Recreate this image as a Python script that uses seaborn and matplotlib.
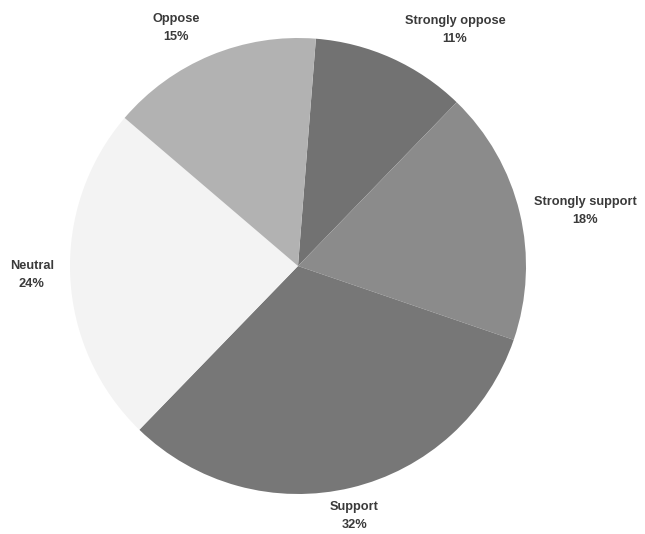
import matplotlib
matplotlib.use("Agg")
import matplotlib.pyplot as plt
import seaborn as sns

sns.set_theme(style="white")
plt.rcParams["font.family"] = ["Liberation Sans", "DejaVu Sans"]

# Survey responses, clockwise from the top
categories = ["Strongly oppose", "Strongly support", "Support", "Neutral", "Oppose"]
shares = [11, 18, 32, 24, 15]
colors = ["#727272", "#8b8b8b", "#777777", "#f3f3f3", "#b2b2b2"]

# Label anchors (in units of the pie radius)
label_xy = [(0.689, 1.035), (1.259, 0.241), (0.246, -1.096), (-1.167, -0.039), (-0.535, 1.044)]

W, H = 645, 534
cx, cy, R = 298, 266, 228

fig = plt.figure(figsize=(W / 100, H / 100), dpi=100)
ax = fig.add_axes([0, 0, 1, 1])

ax.pie(shares, colors=colors, startangle=85.5, counterclock=False,
       radius=1.0, wedgeprops=dict(linewidth=0))

for name, val, (x, y) in zip(categories, shares, label_xy):
    ax.text(x, y, f"{name}\n{val}%", ha="center", va="center",
            fontsize=9.2, fontweight="bold", color="#3a3a3a", linespacing=1.75)

ax.set_xlim(-cx / R, (W - cx) / R)
ax.set_ylim(-(H - cy) / R, cy / R)
ax.set_aspect("equal")
ax.axis("off")

fig.savefig("out.png", dpi=100, facecolor="white")
